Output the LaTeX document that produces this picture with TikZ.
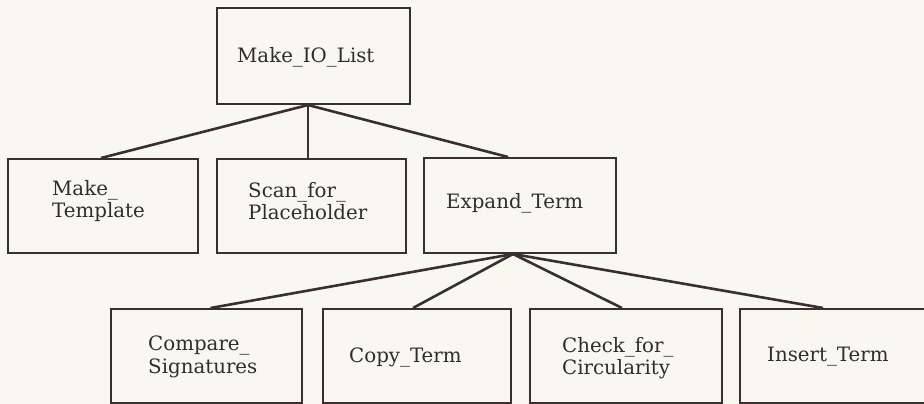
\documentclass[tikz,border=0pt]{standalone}
\usepackage{fontspec}
\setmainfont{DejaVu Serif}
\definecolor{paper}{RGB}{248,248,241}
\definecolor{ink}{RGB}{58,46,48}
\definecolor{txt}{RGB}{50,44,44}
\begin{document}
\begin{tikzpicture}[x=1pt,y=-1pt,
  modbox/.style={draw=ink,line width=2pt,rectangle,inner sep=0pt},
  modtext/.style={text=txt,anchor=west,align=left,inner sep=0pt,
    font=\fontsize{19.8}{22.5}\selectfont},
  link/.style={draw=ink,line width=2.6pt}]
  % page
  \fill[paper] (0,0) rectangle (924,404);
  \useasboundingbox (0,0) rectangle (924,404);
  \clip (0,0) rectangle (924,404);

  % module boxes, given by their corners
  \newcommand\modulebox[5]{%
    \node[modbox,minimum width={#4-#2},minimum height={#5-#3}]
      (#1) at ({(#2+#4)/2},{(#3+#5)/2}) {};}
  \modulebox{io}{217}{8}{410}{104}
  \modulebox{tmpl}{8}{159}{198}{253}
  \modulebox{scan}{217}{159}{406}{253}
  \modulebox{expand}{424}{158}{616}{253}
  \modulebox{cmp}{111}{309}{302}{403}
  \modulebox{copy}{323}{309}{511}{403}
  \modulebox{check}{530}{309}{722}{403}
  \modulebox{insert}{740}{309}{932}{403}

  % labels
  \node[modtext] (tio) at (237,57) {Make\_IO\_List};
  \node[modtext] (ttmpl) at (52,201) {Make\_\\Template};
  \node[modtext] (tscan) at (248,201) {Scan\_for\_\\Placeholder};
  \node[modtext] (texpand) at (446,203) {Expand\_Term};
  \node[modtext] (tcmp) at (148,357) {Compare\_\\Signatures};
  \node[modtext] (tcopy) at (349,357) {Copy\_Term};
  \node[modtext] (tcheck) at (562,358) {Check\_for\_\\Circularity};
  \node[modtext] (tinsert) at (767,357) {Insert\_Term};

  % fan-out points
  \coordinate (j1) at ([xshift=-5.5pt]io.south);
  \coordinate (j2) at ([xshift=-7pt]expand.south);

  % calls
  \draw[link] (j1) -- ([xshift=-2pt]tmpl.north);
  \draw[link] (j1) -- (j1 |- scan.north);
  \draw[link] (j1) -- ([xshift=-12pt]expand.north);
  \draw[link] (j2) -- ([xshift=4pt]cmp.north);
  \draw[link] (j2) -- ([xshift=-4pt]copy.north);
  \draw[link] (j2) -- ([xshift=-4pt]check.north);
  \draw[link] (j2) -- ([xshift=-13pt]insert.north);
\end{tikzpicture}
\end{document}
